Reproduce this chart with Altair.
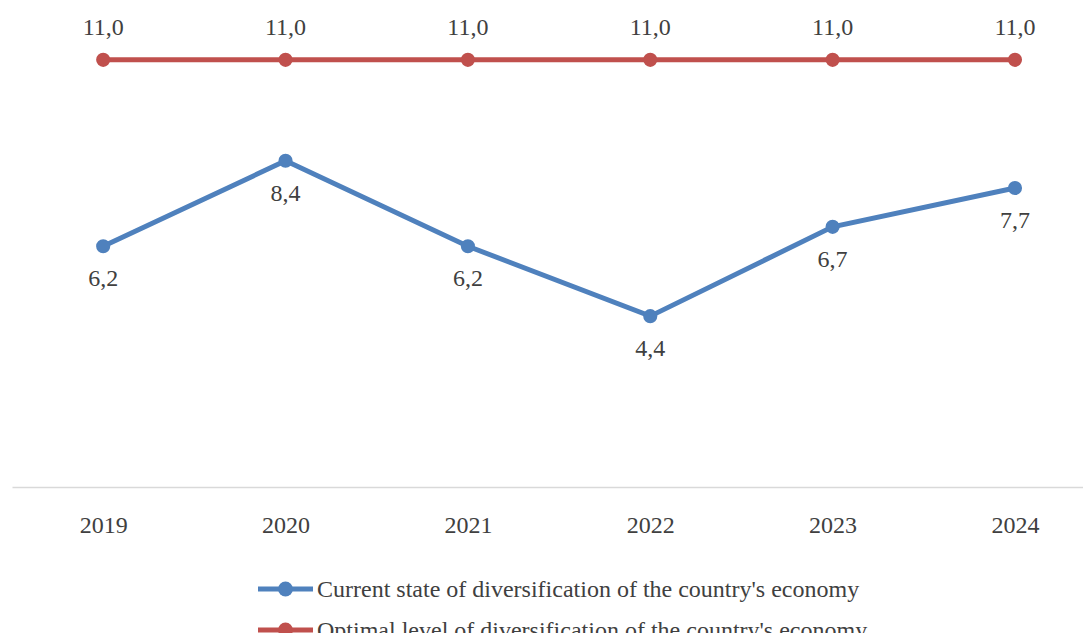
import altair as alt
import pandas as pd

years = [2019, 2020, 2021, 2022, 2023, 2024]
current = [6.2, 8.4, 6.2, 4.4, 6.7, 7.7]
optimal = [11.0, 11.0, 11.0, 11.0, 11.0, 11.0]
series_names = [
    "Current state of diversification of the country's economy",
    "Optimal level of diversification of the country's economy",
]
colors = ["#4F81BD", "#C0504D"]

rows = []
for name, vals in zip(series_names, [current, optimal]):
    for yr, v in zip(years, vals):
        rows.append({"year": yr, "value": v, "series": name,
                     "label": f"{v:.1f}".replace(".", ",")})
df = pd.DataFrame(rows)
legend_df = pd.DataFrame({"series": series_names})

FONT = "Liberation Serif"
TXT = "#404040"

color_scale = alt.Scale(domain=series_names, range=colors)

x = alt.X("year:Q",
          scale=alt.Scale(domain=[2018.5, 2024.373], nice=False, zero=False),
          axis=alt.Axis(values=years, format="d", title=None, ticks=False, grid=False,
                        domainColor="#d9d9d9", domainWidth=1.3,
                        labelFont=FONT, labelFontSize=24, labelColor=TXT,
                        labelPadding=45, labelBaseline="alphabetic", labelFlush=False))
y = alt.Y("value:Q", scale=alt.Scale(domain=[0, 12], nice=False), axis=None)

base = alt.Chart(df)

line = base.mark_line(strokeWidth=5).encode(
    x=x, y=y,
    stroke=alt.Stroke("series:N", scale=color_scale, legend=None),
)

points = base.mark_circle(size=200, opacity=1).encode(
    x=x, y=y,
    fill=alt.Fill("series:N", scale=color_scale, legend=None),
)

text_top = base.transform_filter(alt.datum.series == series_names[1]).mark_text(
    dy=-25, baseline="alphabetic", font=FONT, fontSize=24, color=TXT
).encode(x=x, y=y, text="label:N")

text_bot = base.transform_filter(alt.datum.series == series_names[0]).mark_text(
    dy=40, baseline="alphabetic", font=FONT, fontSize=24, color=TXT
).encode(x=x, y=y, text="label:N")

main = alt.layer(line, points, text_top, text_bot)

# legend (bottom, below the axis)
ly = alt.Y("series:N",
           scale=alt.Scale(type="point", domain=series_names, range=[568, 609], padding=0),
           axis=None)
lbase = alt.Chart(legend_df)
leg_rule = lbase.mark_rule(strokeWidth=5).encode(
    x=alt.value(246), x2=alt.value(301), y=ly,
    stroke=alt.Stroke("series:N", scale=color_scale, legend=None),
)
leg_dot = lbase.mark_circle(size=220, opacity=1).encode(
    x=alt.value(273.5), y=ly,
    fill=alt.Fill("series:N", scale=color_scale, legend=None),
)
leg_text = lbase.mark_text(align="left", baseline="middle", font=FONT, fontSize=24,
                           color=TXT, dy=1).encode(
    x=alt.value(305), y=ly, text="series:N",
)
legend = alt.layer(leg_rule, leg_dot, leg_text)

chart = alt.layer(main, legend).resolve_scale(y="independent").properties(
    width=1071, height=466,
    padding={"left": 4, "top": 13, "right": 0, "bottom": 146},
    autosize=alt.AutoSizeParams(type="none"),
).configure_view(stroke=None)

chart.save("out.html", embed_options={"renderer": "svg", "actions": False})
